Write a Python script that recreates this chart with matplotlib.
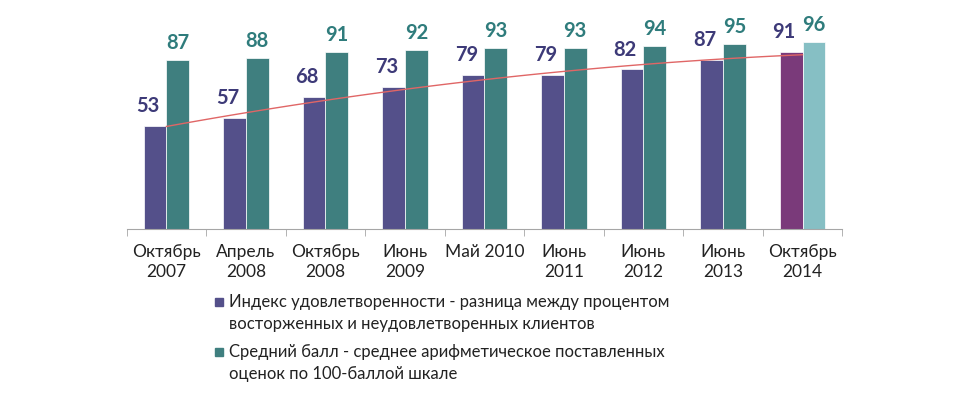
import numpy as np
import matplotlib.pyplot as plt
from matplotlib.patches import Rectangle

categories = ['Октябрь\n2007', 'Апрель\n2008', 'Октябрь\n2008', 'Июнь\n2009', 'Май 2010',
              'Июнь\n2011', 'Июнь\n2012', 'Июнь\n2013', 'Октябрь\n2014']
index_vals = [53, 57, 68, 73, 79, 79, 82, 87, 91]
score_vals = [87, 88, 91, 92, 93, 93, 94, 95, 96]
legend_labels = ['Индекс удовлетворенности - разница между процентом\nвосторженных и неудовлетворенных клиентов',
                 'Средний балл - среднее арифметическое поставленных\nоценок по 100-баллой шкале']

c_idx = '#54508a'
c_score = '#3f7f7f'
c_idx_last = '#7a3a7a'
c_score_last = '#86bfc4'

plt.rcParams['font.family'] = ['Lato', 'DejaVu Sans']

fig = plt.figure(figsize=(9.67, 3.93), dpi=100)
ax = fig.add_axes([0.131, 0.417, 0.740, 0.496])

x = np.arange(len(categories))
w = 0.285
cols1 = [c_idx] * (len(x) - 1) + [c_idx_last]
cols2 = [c_score] * (len(x) - 1) + [c_score_last]
ax.bar(x - w / 2, index_vals, w, color=cols1, edgecolor='white', linewidth=0.5)
ax.bar(x + w / 2, score_vals, w, color=cols2, edgecolor='white', linewidth=0.5)

for i in range(len(x)):
    ax.annotate(str(index_vals[i]), (x[i] - w / 2, index_vals[i]), xytext=(-5, 7),
                textcoords='offset points', ha='center', va='bottom',
                fontsize=14.5, fontweight='bold', color='#3d3a78')
    ax.annotate(str(score_vals[i]), (x[i] + w / 2, score_vals[i]), xytext=(0, 5),
                textcoords='offset points', ha='center', va='bottom',
                fontsize=14.5, fontweight='bold', color='#2f7c7c')

# polynomial trendline of the index series
coef = np.polyfit(x, index_vals, 2)
xs = np.linspace(0, len(x) - 1, 100)
ax.plot(xs, np.polyval(coef, xs), color='#e06666', lw=1)

ax.set_xlim(-0.5, len(x) - 0.5)
ax.set_ylim(0, 100)
ax.set_yticks([])
for s in ['left', 'right', 'top']:
    ax.spines[s].set_visible(False)
ax.spines['bottom'].set_color('#a6a6a6')
ax.set_xticks(x)
ax.set_xticklabels(categories, fontsize=12.5, color='#222222', linespacing=1.3)
ax.tick_params(axis='x', which='major', length=0, pad=11)
ax.set_xticks(np.arange(-0.5, len(x), 1), minor=True)
ax.tick_params(axis='x', which='minor', length=5, color='#a6a6a6')

# legend: square marker aligned with the first line of each entry
W, H = 967, 393
for lab, col, y0 in zip(legend_labels, [c_idx, c_score], [302, 352]):
    fig.patches.append(Rectangle((215 / W, 1 - (y0 + 4) / H), 8 / W, 8 / H,
                                 color=col, transform=fig.transFigure))
    fig.text(229 / W, 1 - (y0 - 8) / H, lab, ha='left', va='top', fontsize=12,
             color='#222222', linespacing=1.5)

fig.savefig('out.png', dpi=100)
